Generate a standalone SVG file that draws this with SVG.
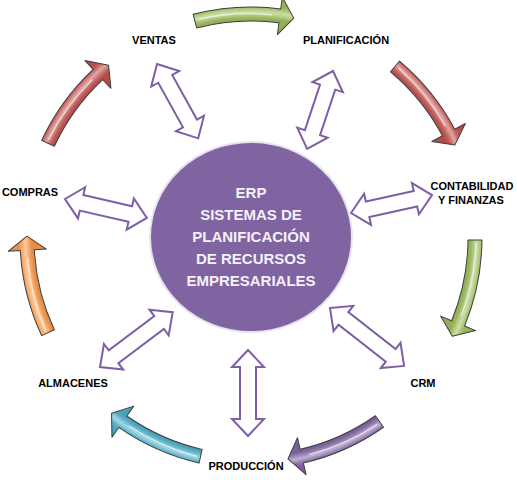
<svg xmlns="http://www.w3.org/2000/svg" xmlns:xlink="http://www.w3.org/1999/xlink" width="517" height="480" viewBox="0 0 517 480">
<style>
.lbl{font-family:"Liberation Sans",Arial,sans-serif;font-weight:bold;font-size:11px;fill:#000;text-anchor:middle}
.ctr{font-family:"Liberation Sans",Arial,sans-serif;font-weight:bold;font-size:15px;fill:#f4f1f8;text-anchor:middle}
.dbl{fill:#fff;stroke:#7d5fa6;stroke-width:2;stroke-linejoin:miter}
.cout{stroke:#3f3f3f;stroke-width:1;stroke-linejoin:round}
</style>
<defs>
<radialGradient id="shine" gradientUnits="userSpaceOnUse" cx="0" cy="0" r="243">
<stop offset="0" stop-color="#fff" stop-opacity="0"/>
<stop offset="0.84" stop-color="#000" stop-opacity="0.06"/>
<stop offset="0.893" stop-color="#000" stop-opacity="0.06"/>
<stop offset="0.915" stop-color="#fff" stop-opacity="0.2"/>
<stop offset="0.93" stop-color="#fff" stop-opacity="0.5"/>
<stop offset="0.945" stop-color="#fff" stop-opacity="0.15"/>
<stop offset="0.97" stop-color="#000" stop-opacity="0.03"/>
<stop offset="1" stop-color="#000" stop-opacity="0.1"/>
</radialGradient>
<path id="carc" d="M231,0 A231,231 0 0 1 214.33,86.16 L225.47,90.64 L202.18,96.43 L190.21,76.46 L201.34,80.94 A217,217 0 0 0 217,0 Z"/>
<g id="curved">
<use xlink:href="#carc"/>
<use xlink:href="#carc" fill="url(#shine)" class="cout"/>
<path d="M225,4 A225,225 0 0 1 211,76" fill="none" stroke="#fff" stroke-opacity="0.6" stroke-width="1.5" stroke-linecap="round"/>
</g>
</defs>

<g id="cycle">
<use xlink:href="#curved" fill="#9bbb59" transform="translate(251,238) rotate(-104.5)"/>
<use xlink:href="#curved" fill="#c0504d" transform="translate(251,238) rotate(-50)"/>
<use xlink:href="#curved" fill="#9bbb59" transform="translate(251,238) rotate(0.5)"/>
<use xlink:href="#curved" fill="#8064a2" transform="translate(251,238) rotate(55)"/>
<use xlink:href="#curved" fill="#4bacc6" transform="translate(251,238) rotate(103)"/>
<use xlink:href="#curved" fill="#f79646" transform="translate(251,238) rotate(155)"/>
<use xlink:href="#curved" fill="#c0504d" transform="translate(251,238) rotate(205)"/>
</g>

<g id="connectors">
<path class="dbl" transform="translate(157,64) rotate(61)" d="M0,0 L17,-16 L17,-8 L68,-8 L68,-16 L85,0 L68,16 L68,8 L17,8 L17,16 Z"/>
<path class="dbl" transform="translate(333,71) rotate(108.4)" d="M0,0 L17,-16 L17,-8 L65,-8 L65,-16 L82,0 L65,16 L65,8 L17,8 L17,16 Z"/>
<path class="dbl" transform="translate(351,213) rotate(-12.5)" d="M0,0 L17,-16 L17,-8 L66,-8 L66,-16 L83,0 L66,16 L66,8 L17,8 L17,16 Z"/>
<path class="dbl" transform="translate(65,199) rotate(13)" d="M0,0 L17,-16 L17,-8 L67,-8 L67,-16 L84,0 L67,16 L67,8 L17,8 L17,16 Z"/>
<path class="dbl" transform="translate(100,367) rotate(-37)" d="M0,0 L17,-16 L17,-8 L74,-8 L74,-16 L91,0 L74,16 L74,8 L17,8 L17,16 Z"/>
<path class="dbl" transform="translate(248,350) rotate(90)" d="M0,0 L17,-16 L17,-8 L69,-8 L69,-16 L86,0 L69,16 L69,8 L17,8 L17,16 Z"/>
<path class="dbl" transform="translate(330,308) rotate(38)" d="M0,0 L17,-16 L17,-8 L77,-8 L77,-16 L94,0 L77,16 L77,8 L17,8 L17,16 Z"/>
</g>

<g id="erp">
<ellipse cx="251" cy="237" rx="101" ry="95" fill="#8064a2" stroke="#e8e2f0" stroke-width="2"/>
<text class="ctr" x="251" y="198">ERP</text>
<text class="ctr" x="251" y="220">SISTEMAS DE</text>
<text class="ctr" x="251" y="242">PLANIFICACIÓN</text>
<text class="ctr" x="251" y="264">DE RECURSOS</text>
<text class="ctr" x="251" y="286">EMPRESARIALES</text>
</g>

<g id="ventas"><text class="lbl" x="154" y="44">VENTAS</text></g>
<g id="planificacion"><text class="lbl" x="346" y="44">PLANIFICACIÓN</text></g>
<g id="contabilidad"><text class="lbl" x="472" y="190">CONTABILIDAD</text><text class="lbl" x="471" y="204">Y FINANZAS</text></g>
<g id="compras"><text class="lbl" x="30" y="196">COMPRAS</text></g>
<g id="almacenes"><text class="lbl" x="73" y="387">ALMACENES</text></g>
<g id="crm"><text class="lbl" x="423" y="387">CRM</text></g>
<g id="produccion"><text class="lbl" x="246" y="470">PRODUCCIÓN</text></g>
</svg>
